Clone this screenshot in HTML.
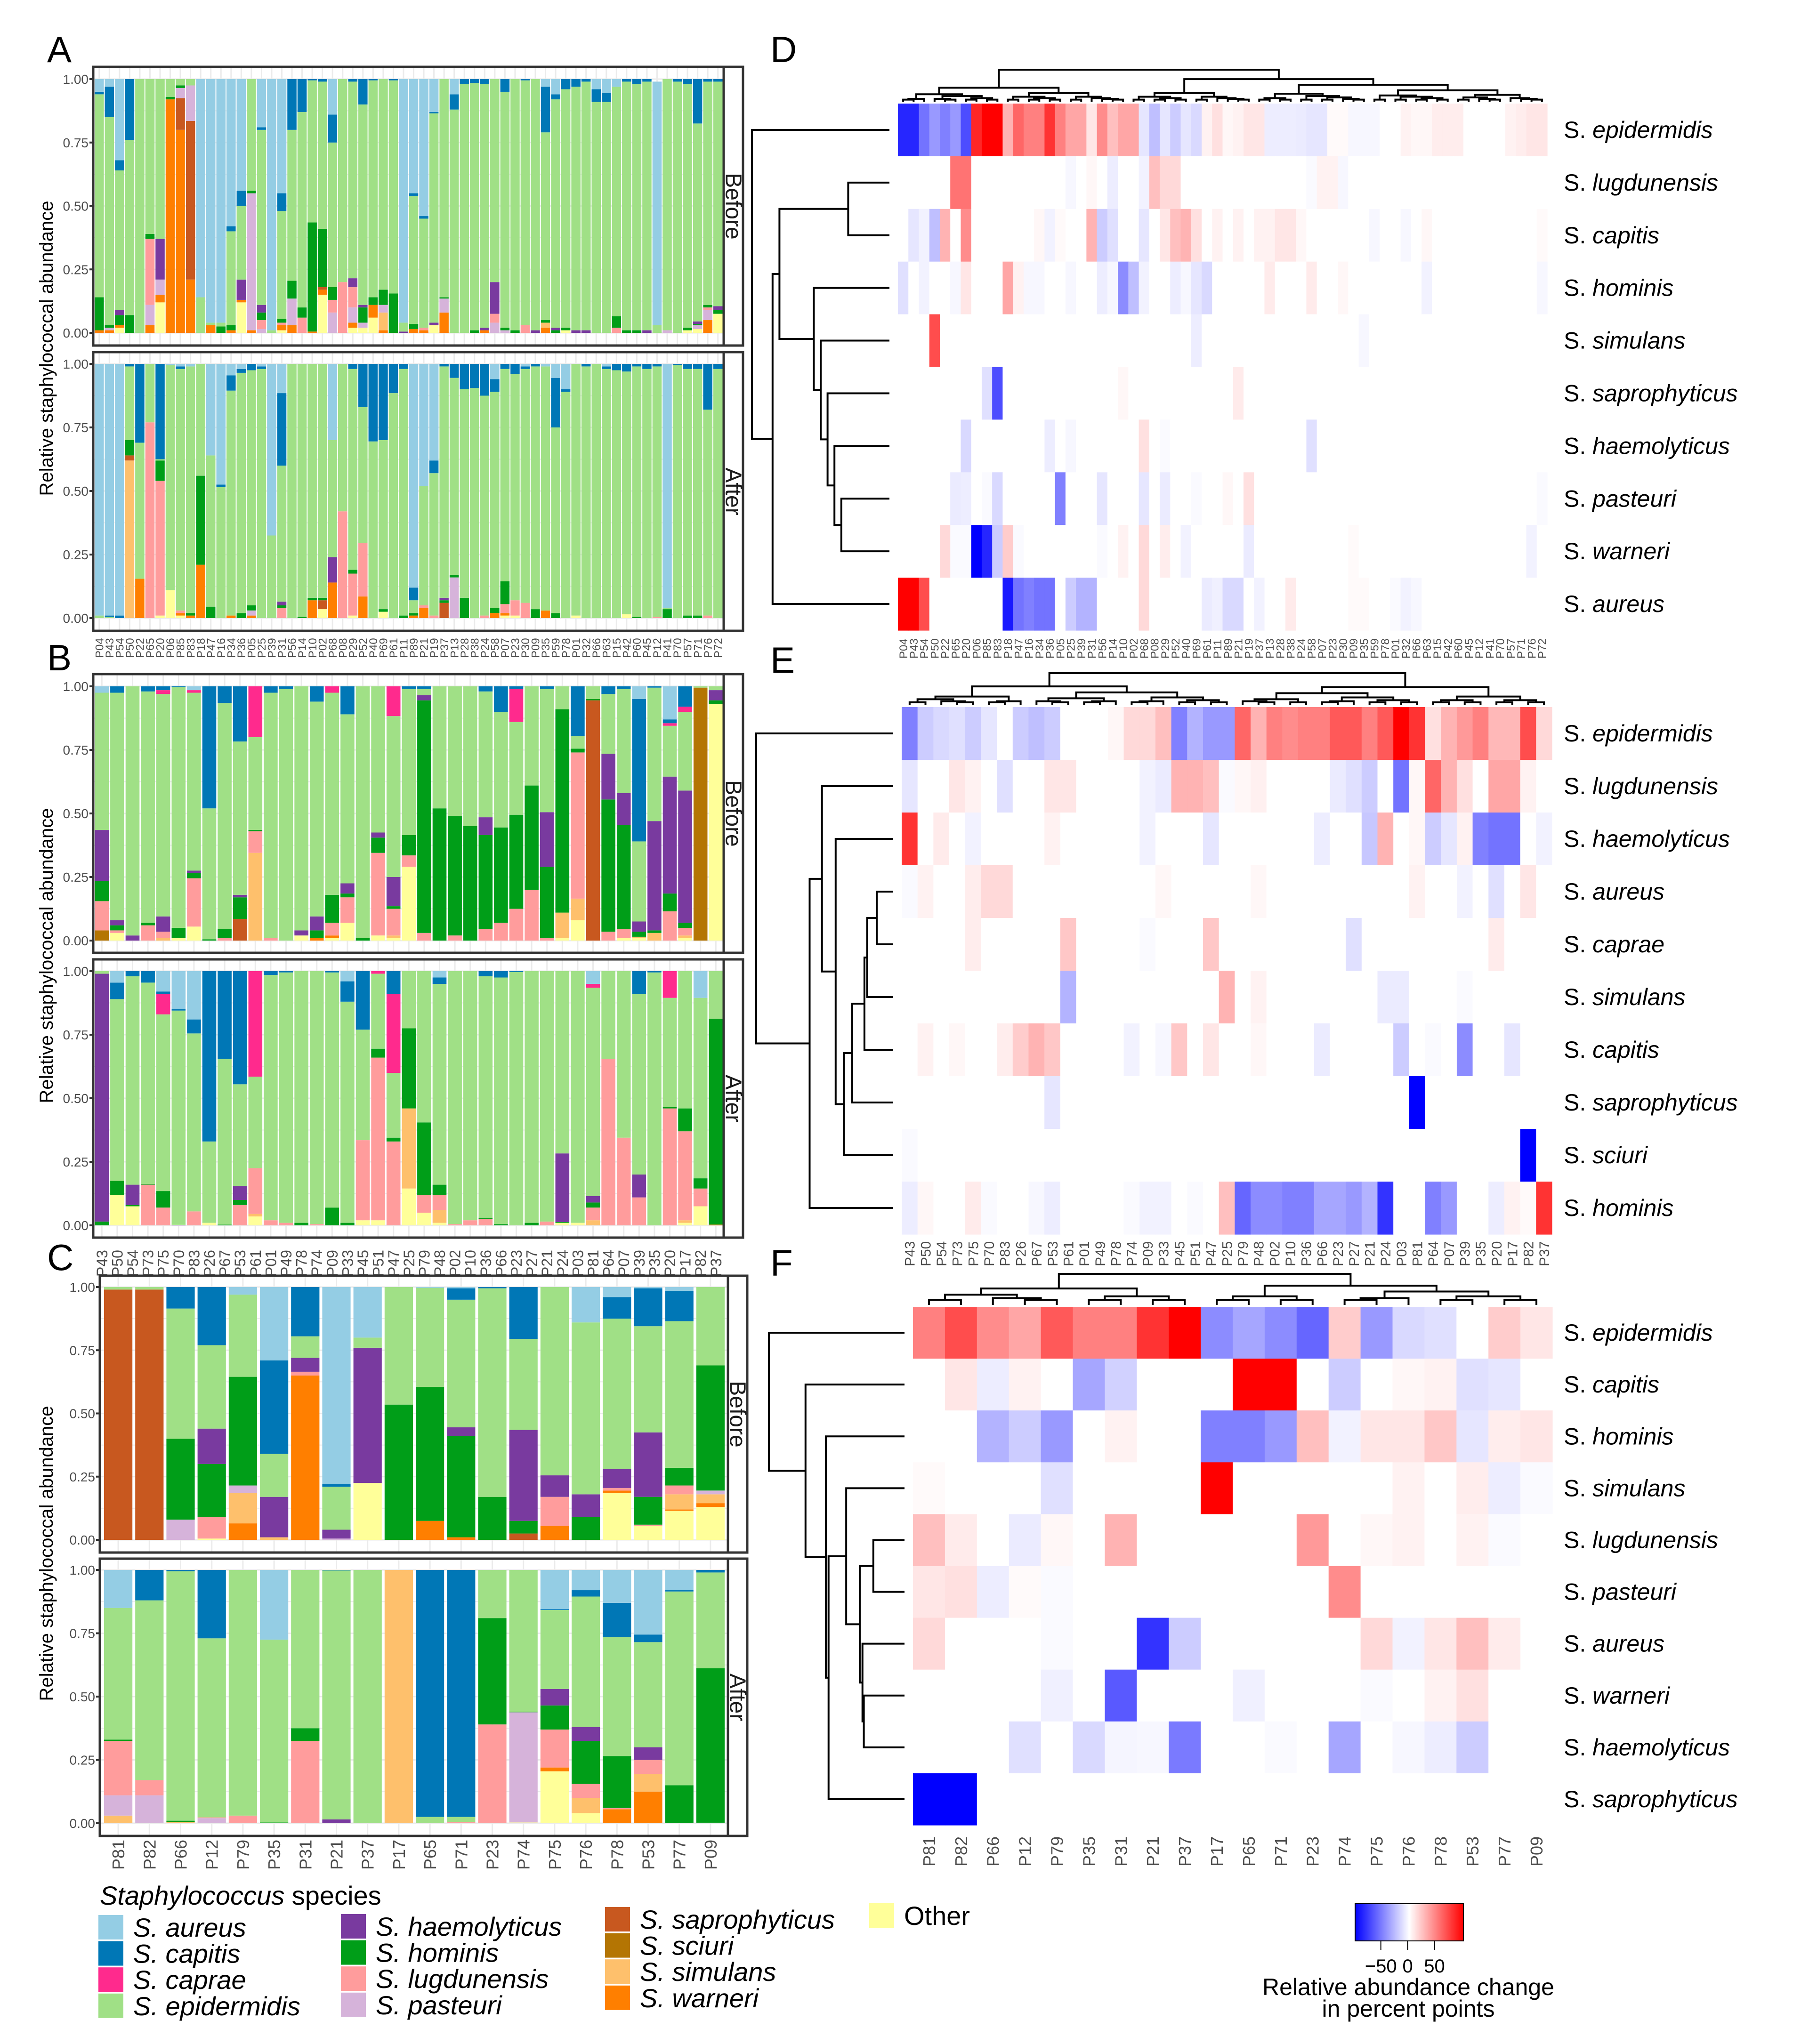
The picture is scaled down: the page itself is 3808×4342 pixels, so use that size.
<!DOCTYPE html>
<html><head><meta charset="utf-8">
<style>
html,body{margin:0;padding:0;background:#fff;}
svg{display:block;font-family:"Liberation Sans",sans-serif;}
</style></head>
<body>
<svg id="fig" xmlns="http://www.w3.org/2000/svg" width="3808" height="4342" viewBox="0 0 3808 4342">
<rect x="0" y="0" width="3808" height="4342" fill="#fff"/>
</svg>
<script>
// ---------------- DATA ----------------
const speciesCodes = ["o","w","i","r","s","u","l","h","m","e","p","c","a"];
const speciesColors = {a:"#94CDE4",c:"#0077B6",p:"#FF2A8D",e:"#A0E086",m:"#793A9F",h:"#009E18",l:"#FF9C9C",u:"#D6B3DA",s:"#C8581F",r:"#B47503",i:"#FEC06C",w:"#FF7F00",o:"#FFFF99"};
const rowNamesD = ["epidermidis","lugdunensis","capitis","hominis","simulans","saprophyticus","haemolyticus","pasteuri","warneri","aureus"];
const rowNamesE = ["epidermidis","lugdunensis","haemolyticus","aureus","caprae","simulans","capitis","saprophyticus","sciuri","hominis"];
const rowNamesF = ["epidermidis","capitis","hominis","simulans","lugdunensis","pasteuri","aureus","warneri","haemolyticus","saprophyticus"];

const labelsA = ["P04","P43","P54","P50","P22","P65","P20","P06","P85","P83","P18","P47","P16","P34","P36","P05","P25","P39","P31","P56","P14","P10","P02","P68","P08","P29","P52","P40","P69","P61","P11","P89","P21","P19","P37","P13","P28","P38","P24","P58","P07","P23","P30","P09","P35","P59","P78","P01","P32","P66","P63","P15","P42","P60","P45","P12","P41","P70","P57","P71","P76","P72"];
const labelsB = ["P43","P50","P54","P73","P75","P70","P83","P26","P67","P53","P61","P01","P49","P78","P74","P09","P33","P45","P51","P47","P25","P79","P48","P02","P10","P36","P66","P23","P27","P21","P24","P03","P81","P64","P07","P39","P35","P20","P17","P82","P37"];
const labelsC = ["P81","P82","P66","P12","P79","P35","P31","P21","P37","P17","P65","P71","P23","P74","P75","P76","P78","P53","P77","P09"];

// bar compositions (percent, species code + value; S. epidermidis = remainder)
const aBefore = ["w1 h13 c1 a5","w1 u1 h1 c12 a3","o2 w1 h4 m2 c4 a32","h7 c24","","w3 u8 l26 h2","o12 w3 u6 m16","w92 h1","w80 s12.5 u4 h1","w21 s62.5 u14",
"a86","w3 a96","h2.5 a96","w1 h2 c2 a58","o12 w1 m8 c6 a44","w1 u54 h1","u1.5 l3.5 h3 m3 c1 a19","a99","o1 w2 l1 h1.5 c7 a45","w3 u10.5 h7 c20",
"l6 h4 c13","w0.5 h43 c0.5","o15 w2 s1 h23 c1","u8 l5 h5 c11 a14","l20","o2 w2 l8 u6 m3.5 c1","o2 u2 h6 m1 c10","o6 w5 h3 c0.5","w1 i7 u3 h6","h15.5 c0.5",
"m0.5 a96","w1.5 h2 c1 a45","w1 l1 c1 a54","o3 m1 c0.5 a13","w8 u5.5 h0.5","c6 a6","c2","h1 c1.5","w1 m1 c2","u4 l3.5 m12.5",
"u1 h1 c5","h1","l3 c0.5","m1","w2 i2 h1 c18 a3","h1 m1 c2 a6","o1 h1 c4","m1 c3","m1 c1","c5 a4",
"c3.5 a5.5","l2 h4.5 a3","h1 c1","h1 c2","m1 c1","e3 a96","u1","c1","o1 h1 c2","o1.5 u1.5 h0.5 m1 c17.5",
"w5 l1 u4 h1 c1","o7.5 h1.5 m1.5 c1"];
const aAfter = ["a99","c0.5 a99","c1 a99","i62 s2 h6 c1","w15.5 c31","l77","o1 l53 h8 c37.5","o11 a0.5","o1 w1 l1 c1 a1","w1 h1 a1",
"w21 h35","h4.5 a36","c1 a47.5","w1 c6 a4.5","h2 c1.5 a2","w1 u2 h2 c2.5","c1 a1","a67.5","l4 h1 m1.5 c28.5 a11.5","",
"h0.5","w7 h1","o3.5 s3.5 h1","w14 m10 a30","l42","o1 l16.5 h1.5 c2","w8.5 l21 c17","c30.5","o2.5 h1 c30","c11.5",
"h1 c2","w1 h1 c5 a88","w4 l1 a48","l1 c5 a38","s6 h1 m1 c1","u16 h1 c5.5","h8 c10","c9.5","l1 c12.5","w2 h2 c5 a6",
"o1 w1 l3.5 h9 c2","o1 l6 c4","l6 c1 a1","h3.5 c1","w3 a1","h2 c19.5 a5.5","c1 a10","o1","c1","",
"c1 a1","c2.5","o1.5 c3","h0.5 c1","c2","l0.5 c1","h3.5 a96","c0.5","h1 c2","h1 c2",
"l1 c18","c2"];
const bBefore = ["r4 l11.5 h8 m20 a2.5","o3 l1 h2 m2 c2.5","m2","l6 h1 c2","i1 l2.5 m6 p1.5 c1.5","o1 h4 c0.3","o5.5 l19 h2 m1 p1 a1.5","h0.5 c48","l1 h3.5 c6.5","s8.5 h8.5 m1 c21.7",
"i34.5 l8.5 h0.5 p20","l1 c2.5","c1","o2 m2","w1 h3 m5.5 c6","o1 w1 l5 h11 p2.5","o7 l10 m4 h1.5 c11","h1","o2 l32.5 h6 m2","o1 i1 l10.5 m11.5 h1 p11.7",
"o29 l4.5 h8 c1","l3 h91.5 m2 c1","h52","l2 h47","h45","l4.5 h37 m7 c2","l7 h37.5 c10","l12.5 h37 p13 c1","l20 h41","l1 h28 m21.5 c1",
"o1 i10 h80","o8 i8.5 l57.5 h1.5 c19.5","s94.5 h0.5","l3.5 h52 m18 c3","o1 l3.5 h41 m12.5 c1","o1 i0.5 h2 m4 c56 a5","i3 h1 m43 c0.5","l11.5 h7 m46 p1 c1.5 a13","o1 i1 l3 h2 m52 p2 c8","r99.5",
"o93 h1.5 m4"];
const bAfter = ["h1.5 m97.5","o12 h5.5 c6.5 a4.5","o7.5 h0.5 m8 c2","l16 h0.2 c4.5","l7 h6.5 p8 c1 a8","m0.2 c0.5 a15","l5.5 c5.5 a19","o1 c67","h0.3 c34.5","l8 h2 m5.5 c44.5",
"o3.5 i1 l18 p41.5","l2 c1.5","l1 c0.5","h1","l0.5","h7 c0.5","h1 c8 a4","o2 l31.5 c23","o2 l64 h3.5 p1","l33 h1.5 p31 c9",
"o14.5 i31.5 h31.5","o5 l7 h28.5","o1 i5 l6 h4 c2.5 a2.5","l0.5","l2","l2.5 h0.3 c2","h0.5 c2.5","c0.3","h1","l1.5",
"o1 h0.3 m27","o1","i2 l5 h2 m2.5 p1.5 a5","l65.5","l34.5","l11 m9 c9","c0.5","l46 h0.5 p10.5","o1 i1 l35 h9","o7.5 l7 h4 a10.5",
"w0.3 h81"];
const cBefore = ["s99","s99","u8 h32 c8.5","o0.5 l8.5 h21 m14 c23","w6.5 i12 u3 h43 a3","i1 m16 c37 a29","w65 l1.5 m5.5 c19.5","u0.5 m3.5 c1 a78","o22.5 m53.5 a20","h53.5",
"w7.5 h53 a0.3","w1 h40 m3.5 c4.5 a0.5","h17 c0.5","s2.5 h5 m36 c20.5","w5.5 l11.5 m8.5","h9 m9 a14","o18.5 w1 l1 m7.5 c8.5 a4","o5.5 l0.5 h11 m25.5 c15 a0.5","o11.5 w0.5 i6 l3.5 h7 c12 a1.5","o13 w1.5 i3.5 u1.5 h49.5"];
const cAfter = ["i3 u8 l21.5 h0.5 a15","u11 l6 c12","i0.5 h0.5 c0.5","u2 l0.3 c27","l3","h0.3 a27.5","l32.5 h5","m1.5 c0.2","","i100",
"c97.5","l0.5 c97.5","l39 h42","o0.3 u43.5 h0.2","o20.5 w1.5 l15 h9.5 m6.5 c0.3 a15.5","o4 i6 l5.5 h17 m5.5 c2.5 a8","w5.5 l0.5 h20.5 c13.5 a13","w12.5 i7 l5.5 m5 c3 a25.5","h15 c0.5 a8","l0.2 h61 c1"];

// heatmap values: relative abundance change (percent points)
const heatD = [
[-85,-85,-55,-40,-50,-40,-70,85,100,100,30,60,50,50,80,50,35,35,10,45,25,35,35,-10,-25,-10,-20,-10,-15,5,12,3,5,10,10,-7,-7,-7,-8,-10,-10,2,2,-3,-3,-3,0,0,5,3,3,7,7,7,0,0,0,0,5,7,10,10],
[0,0,0,0,0,55,55,0,0,0,0,0,0,0,0,0,-3,0,3,0,-7,0,0,-5,25,15,15,0,0,0,0,0,0,0,0,0,0,0,0,-2,5,5,-3,0,0,0,0,0,0,0,0,0,0,0,0,0,0,0,0,0,0,0],
[0,-10,-5,-25,30,0,45,0,0,0,0,0,0,3,-5,2,0,0,30,-20,-12,0,0,-10,0,10,25,30,12,0,5,0,5,0,5,5,10,10,3,0,0,0,0,0,0,-3,0,0,-3,0,3,0,0,0,0,0,0,0,0,0,0,2],
[-12,0,-5,0,0,-3,10,0,0,0,35,5,-3,-3,0,0,-3,0,0,-7,-3,-45,-25,-5,0,0,-7,-3,-10,-15,0,0,0,0,0,8,0,0,0,8,0,0,3,0,0,0,0,0,0,0,-5,0,0,0,0,0,0,0,0,0,0,-3],
[0,0,0,70,0,0,0,0,0,0,0,0,0,0,0,0,0,0,0,0,0,0,0,0,0,0,0,0,-7,0,0,0,0,0,0,0,0,0,0,0,0,0,0,0,-3,0,0,0,0,0,0,0,0,0,0,0,0,0,0,0,0,0],
[0,0,0,0,0,0,0,0,-12,-70,0,0,0,0,0,0,0,0,0,0,0,3,0,0,0,0,0,0,0,0,0,0,8,0,0,0,0,0,0,0,0,0,0,0,0,0,0,0,0,0,0,0,0,0,0,0,0,0,0,0,0,0],
[0,0,0,0,0,0,-15,0,0,0,0,0,0,0,-7,0,-3,0,0,0,0,0,0,12,0,-2,0,0,0,0,0,0,0,0,0,0,0,0,0,-12,0,0,0,0,0,0,0,0,0,0,0,0,0,0,0,0,0,0,0,0,0,0],
[0,0,0,0,0,-8,-7,0,-2,-15,0,0,0,0,0,-50,0,0,0,-10,0,0,0,-10,0,-8,0,0,-2,0,0,3,0,12,0,0,0,0,0,0,0,0,0,0,0,0,0,0,0,0,0,0,0,0,0,0,0,0,0,0,0,-2],
[0,0,0,0,15,-2,-2,-100,-85,-20,20,-2,0,0,0,0,0,0,0,-2,0,5,0,15,0,7,0,-5,0,0,0,0,0,-8,0,0,0,0,0,0,0,0,0,2,0,0,0,0,0,0,0,0,0,0,0,0,0,0,0,0,-5,0],
[100,100,70,0,0,0,0,0,0,0,-90,-55,-50,-55,-55,0,-20,-30,-30,0,0,0,0,15,0,0,0,0,0,-8,-6,-15,-15,0,-5,0,0,8,0,0,0,0,0,2,2,0,0,-2,-5,-3,0,0,0,0,0,0,0,0,0,0,0,0]];
const heatE = [
[-50,-20,-15,-12,-20,-10,0,-20,-25,-20,0,0,0,3,15,15,25,-50,-30,-40,-40,60,30,50,45,50,50,65,65,50,65,100,80,12,30,40,50,28,28,70,15],
[-10,0,0,10,5,0,-12,0,0,10,10,0,0,0,0,-5,-8,30,30,25,-2,3,6,0,0,0,0,-8,-12,-20,0,-55,3,60,30,12,0,35,35,5,0],
[80,0,8,0,-5,0,0,0,0,5,0,0,0,0,0,-5,0,0,0,-10,0,0,0,0,0,0,-7,0,0,-22,30,0,3,-20,-10,5,-50,-55,-55,0,-5],
[-2,5,0,0,7,15,15,0,0,0,0,0,0,0,0,0,3,0,0,0,0,0,3,0,0,0,0,0,0,0,0,0,5,0,0,-5,0,-12,0,10,0],
[0,0,0,0,7,0,0,0,0,0,22,0,0,0,0,-2,0,0,0,22,0,0,0,0,0,0,0,0,-12,0,0,0,0,0,0,0,0,8,0,0,0],
[0,0,0,0,0,0,0,0,0,0,-30,0,0,0,0,0,0,0,0,0,30,0,5,0,0,0,0,0,0,0,-8,-8,0,0,0,-2,0,0,0,0,0],
[0,5,0,3,0,0,7,20,30,22,0,0,0,0,-5,0,-3,22,0,10,0,0,3,0,0,0,-8,0,0,0,0,-20,0,-2,0,-45,0,0,-10,0,0],
[0,0,0,0,0,0,0,0,0,-10,0,0,0,0,0,0,0,0,0,0,0,0,0,0,0,0,0,0,0,0,0,0,-100,0,0,0,0,0,0,0,0],
[-2,0,0,0,0,0,0,0,0,0,0,0,0,0,0,0,0,0,0,0,0,0,0,0,0,0,0,0,0,0,0,0,0,0,0,0,0,0,0,-100,0],
[-7,3,0,0,8,-2,0,0,-3,-7,0,0,0,0,-2,-5,-5,0,-2,0,25,-60,-45,-45,-50,-50,-35,-35,-40,-30,-80,0,0,-50,-40,0,0,-7,5,2,80]];
const heatF = [
[50,70,45,35,65,50,50,80,100,-45,-35,-45,-60,20,-40,-15,-12,0,20,10],
[0,10,-7,5,0,-35,-18,0,0,0,100,100,0,-20,0,3,5,-12,-10,0],
[0,0,-30,-20,-40,0,5,0,0,-50,-50,-40,25,-5,10,10,22,-10,7,10],
[2,0,0,0,-12,0,0,0,0,100,0,0,0,0,0,5,0,7,-7,-2],
[25,8,0,-8,3,0,30,0,0,0,0,0,40,0,3,5,0,5,-2,0],
[10,12,-7,2,-2,0,0,0,0,0,0,0,0,45,0,0,0,0,0,0],
[15,0,0,0,-2,0,0,-80,-20,0,0,0,0,0,15,-5,10,25,8,0],
[0,0,0,0,-6,0,-65,0,0,0,-6,0,0,0,-2,0,5,12,0,0],
[0,0,0,-12,0,-15,-4,-3,-52,0,0,-2,0,-35,0,-3,-7,-20,0,0],
[-100,-100,0,0,0,0,0,0,0,0,0,0,0,0,0,0,0,0,0,0]];
const yTicks = [0, 0.25, 0.5, 0.75, 1];
const yTickLabels = ["0.00","0.25","0.50","0.75","1.00"];
const cbTicks = [-50, 0, 50];

// ---------------- HELPERS ----------------
const NS = "http://www.w3.org/2000/svg";
const svg = document.getElementById("fig");
function mk(tag, attrs, parent) {
  const el = document.createElementNS(NS, tag);
  for (const k in attrs) el.setAttribute(k, attrs[k]);
  (parent || svg).appendChild(el);
  return el;
}
function txt(str, attrs, parent) { const t = mk("text", attrs, parent); t.textContent = str; return t; }
function parseComp(s) {
  const out = {}; let sum = 0;
  s.trim().split(/\s+/).filter(Boolean).forEach(tok => { const v = parseFloat(tok.slice(1)); out[tok[0]] = (out[tok[0]] || 0) + v; sum += v; });
  if (!out.e) out.e = Math.max(0, 100 - sum);
  return out;
}
function heatColor(v) {
  const t = Math.min(1, Math.abs(v) / 100);
  const c = Math.round(255 * (1 - t));
  return v < 0 ? `rgb(${c},${c},255)` : `rgb(255,${c},${c})`;
}

// ---------------- BAR PANELS ----------------
function barPanel(cfg) {
  const g = mk("g", {});
  
  
  const yScale = v => cfg.y0 + (cfg.y1 - cfg.y0) * v;
  mk("rect", {x: cfg.left, y: cfg.top, width: cfg.right - cfg.left, height: cfg.bottom - cfg.top, fill: "#fff"}, g);
  [0,0.125,0.25,0.375,0.5,0.625,0.75,0.875,1].forEach((v, i) => {
    mk("line", {x1: cfg.left, x2: cfg.right, y1: yScale(v), y2: yScale(v), stroke: "#EBEBEB", "stroke-width": i % 2 ? 2 : 3}, g);
  });
  cfg.data.forEach((d, i) => {
    const cx = cfg.x0 + cfg.pitch * (i + 0.5);
    mk("line", {x1: cx, x2: cx, y1: cfg.top, y2: cfg.bottom, stroke: "#EBEBEB", "stroke-width": 3}, g);
  });
  cfg.data.forEach((d, i) => {
    const comp = parseComp(d);
    let cum = 0;
    const bx = cfg.x0 + cfg.pitch * i + cfg.gap / 2;
    speciesCodes.forEach(code => {
      const v = comp[code]; if (!v) return;
      const yA = yScale(cum / 100), yB = yScale(Math.min(100, cum + v) / 100);
      const r = mk("rect", {x: bx, y: yB, width: cfg.pitch - cfg.gap, height: Math.max(0.5, yA - yB), fill: speciesColors[code]}, g);
      
      
      cum += v;
    });
  });
  mk("rect", {x: cfg.left, y: cfg.top, width: cfg.right - cfg.left, height: cfg.bottom - cfg.top, fill: "none", stroke: "#333", "stroke-width": 5}, g);
  yTicks.forEach((v, i) => {
    const y = yScale(v);
    mk("line", {x1: cfg.left - 8, x2: cfg.left, y1: y, y2: y, stroke: "#333", "stroke-width": 4}, g);
    const t = txt(yTickLabels[i], {x: cfg.left - 10, y: y + 10, "text-anchor": "end", "font-size": 28, fill: "#4D4D4D"}, g);
    
    
  });
  mk("rect", {x: cfg.right, y: cfg.top, width: cfg.stripW, height: cfg.bottom - cfg.top, fill: "#fff", stroke: "#333", "stroke-width": 5}, g);
  const sx = cfg.right + cfg.stripW / 2 - 16, sy = (cfg.top + cfg.bottom) / 2;
  const st = txt(cfg.strip, {x: sx, y: sy, "text-anchor": "middle", "font-size": 48, fill: "#1A1A1A", transform: `rotate(90 ${sx} ${sy})`}, g);
  
  
  return g;
}
function xLabels(labels, x0, pitch, yStart, fs, name) {
  labels.forEach((lab, i) => {
    const cx = x0 + pitch * (i + 0.5) + fs * 0.36;
    const t = txt(lab, {x: cx, y: yStart, "text-anchor": "start", "font-size": fs, fill: "#4D4D4D", transform: `rotate(-90 ${cx} ${yStart})`});
    
    
  });
}
function yTitle(cx, cy) {
  const t = txt("Relative staphylococcal abundance", {x: cx, y: cy, "text-anchor": "middle", "font-size": 40, fill: "#000", transform: `rotate(-90 ${cx} ${cy})`});
  
  
}

barPanel({name:"panel-a-before", data:aBefore, left:198, right:1537, top:142, bottom:734, y1:168, y0:707, x0:200, pitch:21.54, gap:2, stripW:41, strip:"Before"});
barPanel({name:"panel-a-after", data:aAfter, left:198, right:1537, top:748, bottom:1340, y1:773, y0:1313, x0:200, pitch:21.54, gap:2, stripW:41, strip:"After"});
xLabels(labelsA, 200, 21.54, 1398, 24, "x-tick-label-a");
yTitle(112, 740);
barPanel({name:"panel-b-before", data:bBefore, left:198, right:1537, top:1432, bottom:2024, y1:1458, y0:1998, x0:200, pitch:32.6, gap:3, stripW:41, strip:"Before"});
barPanel({name:"panel-b-after", data:bAfter, left:198, right:1537, top:2038, bottom:2629, y1:2063, y0:2603, x0:200, pitch:32.6, gap:3, stripW:41, strip:"After"});
xLabels(labelsB, 200, 32.6, 2712, 32, "x-tick-label-b");
yTitle(112, 2030);
barPanel({name:"panel-c-before", data:cBefore, left:212, right:1546, top:2710, bottom:3298, y1:2734, y0:3271, x0:218, pitch:66.2, gap:6, stripW:41, strip:"Before"});
barPanel({name:"panel-c-after", data:cAfter, left:212, right:1546, top:3311, bottom:3900, y1:3335, y0:3873, x0:218, pitch:66.2, gap:6, stripW:41, strip:"After"});
xLabels(labelsC, 218, 66.2, 3972, 36, "x-tick-label-c");
yTitle(112, 3300);

// ---------------- HEATMAPS ----------------
function drawTreeRows(tree, rowCenters, xRight, width, g) {
  function rec(node) {
    if (typeof node === "number") return {y: rowCenters[node], x: xRight};
    const a = rec(node[1]), b = rec(node[2]);
    const x = xRight - node[0] * width;
    mk("path", {d: `M${a.x},${a.y}H${x}V${b.y}H${b.x}`, fill: "none", stroke: "#000", "stroke-width": 4}, g);
    return {y: (a.y + b.y) / 2, x: x};
  }
  rec(tree);
}
function buildTopTree(a, b, ratios, depth) {
  if (b - a === 1) return a;
  const r = ratios[depth % ratios.length];
  let m = a + Math.max(1, Math.min(b - a - 1, Math.round((b - a) * r)));
  return [Math.pow((b - a), 0.8), buildTopTree(a, m, ratios, depth + 1), buildTopTree(m, b, ratios, depth + 2)];
}
function drawTreeTop(tree, colCenters, yBottom, height, maxH, g) {
  function rec(node) {
    if (typeof node === "number") return {x: colCenters[node], y: yBottom};
    const a = rec(node[1]), b = rec(node[2]);
    const y = yBottom - (node[0] / maxH) * height;
    mk("path", {d: `M${a.x},${a.y}V${y}H${b.x}V${b.y}`, fill: "none", stroke: "#000", "stroke-width": 4}, g);
    return {x: (a.x + b.x) / 2, y: y};
  }
  rec(tree);
}
function heatmap(cfg) {
  const g = mk("g", {});
  
  
  const nC = cfg.values[0].length, nR = cfg.values.length;
  const cw = (cfg.right - cfg.left) / nC, rh = (cfg.bottom - cfg.top) / nR;
  cfg.values.forEach((row, r) => row.forEach((v, c) => {
    const cell = mk("rect", {x: cfg.left + c * cw, y: cfg.top + r * rh, width: cw + 0.6, height: rh + 0.6, fill: heatColor(v)}, g);
    
    
  }));
  const rowCenters = cfg.values.map((_, r) => cfg.top + (r + 0.5) * rh);
  drawTreeRows(cfg.rowTree, rowCenters, cfg.left - 18, cfg.left - 18 - cfg.treeLeft, g);
  const colCenters = cfg.values[0].map((_, c) => cfg.left + (c + 0.5) * cw);
  const tt = buildTopTree(0, nC, cfg.ratios, 0);
  drawTreeTop(tt, colCenters, cfg.top - 4, cfg.top - 4 - cfg.treeTop, Math.pow(nC, 0.8), g);
  cfg.rowNames.forEach((nm, r) => {
    const t = txt("", {x: cfg.labelX, y: rowCenters[r] + 17, "font-size": 50, fill: "#000"}, g);
    
    
    const t1 = mk("tspan", {}, t); t1.textContent = "S. ";
    const t2 = mk("tspan", {"font-style": "italic"}, t); t2.textContent = nm;
  });
  xLabels(cfg.colLabels, cfg.left, cw, cfg.labelY, cfg.labelFs, "heatmap-col-label");
}
heatmap({name:"heatmap-d", values:heatD, rowNames:rowNamesD, colLabels:labelsA, left:1907, right:3286, top:220, bottom:1339, labelX:3321, labelY:1399, labelFs:24, treeLeft:1597, treeTop:148, ratios:[0.35,0.45,0.3,0.5,0.4],
  rowTree:[1,0,[0.85,[0.8,[0.3,1,2],[0.55,3,[0.5,4,[0.45,5,[0.4,6,[0.35,7,8]]]]]],9]]});
heatmap({name:"heatmap-e", values:heatE, rowNames:rowNamesE, colLabels:labelsB, left:1915, right:3296, top:1502, bottom:2622, labelX:3321, labelY:2690, labelFs:30, treeLeft:1606, treeTop:1430, ratios:[0.5,0.4,0.6,0.45],
  rowTree:[1,0,[0.61,[0.52,1,[0.42,2,[0.36,[0.3,[0.21,[0.19,[0.12,3,4],5],6],7],8]]],9]]});
heatmap({name:"heatmap-f", values:heatF, rowNames:rowNamesF, colLabels:labelsC, left:1939, right:3297, top:2776, bottom:3877, labelX:3321, labelY:3965, labelFs:36, treeLeft:1633, treeTop:2706, ratios:[0.45,0.5,0.4,0.55],
  rowTree:[1,0,[0.73,1,[0.58,2,[0.56,[0.43,3,[0.33,[0.23,4,5],[0.31,6,[0.3,7,8]]]],9]]]]});

// ---------------- PANEL LETTERS ----------------
[["A",100,132],["B",100,1424],["C",100,2698],["D",1636,132],["E",1636,1429],["F",1636,2710]].forEach(p => {
  const t = txt(p[0], {x: p[1], y: p[2], "font-size": 78, fill: "#000"});
  
  
});

// ---------------- LEGEND ----------------
const legendTitle = txt("", {x: 212, y: 4046, "font-size": 56, fill: "#000"});


(function(){ const a = mk("tspan", {"font-style":"italic"}, legendTitle); a.textContent = "Staphylococcus"; const b = mk("tspan", {}, legendTitle); b.textContent = " species"; })();
const legendCols = [
  {x: 209, y: 4068, items: [["a","aureus"],["c","capitis"],["p","caprae"],["e","epidermidis"]]},
  {x: 724, y: 4066, items: [["m","haemolyticus"],["h","hominis"],["l","lugdunensis"],["u","pasteuri"]]},
  {x: 1285, y: 4051, items: [["s","saprophyticus"],["r","sciuri"],["i","simulans"],["w","warneri"]]},
  {x: 1846, y: 4043, items: [["o","Other"]]}];
legendCols.forEach(col => col.items.forEach((it, k) => {
  const y = col.y + k * 55.6;
  const r = mk("rect", {x: col.x, y: y, width: 53, height: 52, fill: speciesColors[it[0]]});
  
  
  const t = txt("", {x: col.x + 74, y: y + 46, "font-size": 56, fill: "#000"});
  
  
  if (it[0] === "o") { t.textContent = "Other"; }
  else { const a = mk("tspan", {"font-style":"italic"}, t); a.textContent = "S. " + it[1]; }
}));

// ---------------- COLOR BAR ----------------
const defs = mk("defs", {});
const grad = mk("linearGradient", {id: "cbgrad", x1: "0", x2: "1", y1: "0", y2: "0"}, defs);
mk("stop", {offset: "0", "stop-color": "#0000FF"}, grad);
mk("stop", {offset: "0.5", "stop-color": "#FFFFFF"}, grad);
mk("stop", {offset: "1", "stop-color": "#FF0000"}, grad);
const cbL = 2878, cbR = 3108, cbMin = -98, cbMax = 104;
const cbx = v => cbL + (v - cbMin) / (cbMax - cbMin) * (cbR - cbL);
const cb = mk("rect", {x: cbL, y: 4044, width: cbR - cbL, height: 79, fill: "url(#cbgrad)", stroke: "#000", "stroke-width": 2});


cbTicks.forEach(v => {
  mk("line", {x1: cbx(v), x2: cbx(v), y1: 4123, y2: 4142, stroke: "#000", "stroke-width": 2});
  const t = txt(String(v).replace("-", "−"), {x: cbx(v), y: 4190, "text-anchor": "middle", "font-size": 40, fill: "#000"});
  
  
});
const cbt1 = txt("Relative abundance change", {x: 2991, y: 4238, "text-anchor": "middle", "font-size": 50, fill: "#000"});


const cbt2 = txt("in percent points", {x: 2991, y: 4284, "text-anchor": "middle", "font-size": 50, fill: "#000"});


</script>
</body></html>
